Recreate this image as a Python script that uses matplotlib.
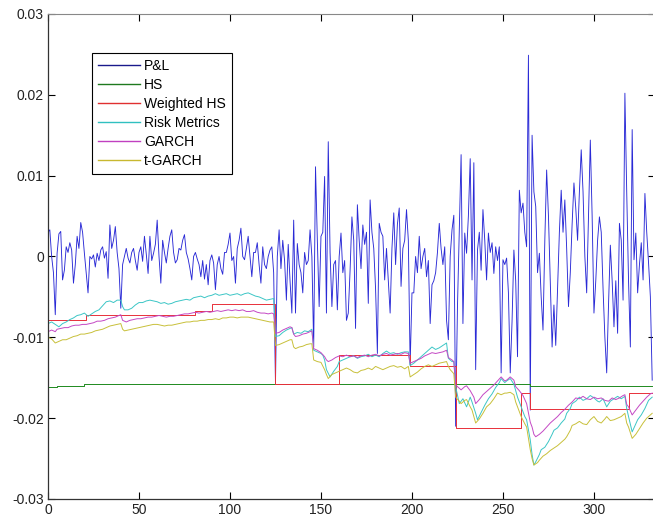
import matplotlib
matplotlib.use("Agg")
import matplotlib.pyplot as plt
import numpy as np

plt.rcParams['font.family'] = ['Liberation Sans', 'DejaVu Sans']

# Daily P&L (units of 1e-3)
pnl = [
    3.0, 3.3, 0.0, -2.0, -7.2, 0.4, 2.8, 3.1, -2.9, -1.7,
    1.2, 0.5, 1.7, 0.8, -3.3, -1.0, 2.5, 1.0, 4.2, 3.0,
    0.4, -2.0, -4.5, 0.0, -0.3, 0.2, -1.3, 0.4, -0.5, 0.8,
    1.2, -0.2, 0.6, -2.7, 3.9, 1.0, 2.0, 3.7, 0.5, -1.5,
    -6.4, -1.0, 0.0, 1.0, -0.2, -0.8, 0.5, 1.0, -0.5, -1.7,
    0.5, 1.2, -0.6, 2.5, 0.3, -2.1, 2.5, -0.5, 0.4, 1.5,
    4.5, 0.0, -3.3, 2.0, 0.5, -0.8, 1.0, 2.5, 3.3, 0.5,
    -0.8, -0.4, 1.0, 0.8, 2.0, 2.7, 0.5, -0.3, -1.5, -2.9,
    0.0, 0.5, -0.3, -1.0, -2.5, -0.5, -2.8, -1.0, -3.5, -0.5,
    0.2, -0.8, -4.1, -1.0, 0.0, -1.5, -2.2, 0.5, 0.5, 1.5,
    2.9, -0.5, 0.0, -3.3, 1.0, 2.0, 3.5, 0.0, -0.4, 1.0,
    2.5, 0.0, -2.5, 0.5, 0.5, 1.7, -1.0, -3.3, 1.2, -1.0,
    -1.5, 0.0, 0.8, 1.2, -2.0, -15.7, 0.0, 3.3, -1.5, 2.0,
    -0.5, -5.4, 1.5, -3.0, -7.0, 4.5, -7.0, 1.6, -1.0, -2.0,
    -4.5, 0.5, -1.0, -0.5, 3.3, 0.0, -11.2, 11.1, 2.0, -6.2,
    2.5, 3.0, 9.9, -7.0, 14.2, 0.5, -6.2, -1.0, -0.5, -6.6,
    0.0, 2.9, -2.0, -0.5, -7.9, -7.0, -1.7, 4.9, 2.0, -8.9,
    6.4, 2.0, -1.5, 3.9, 1.5, 3.0, -5.8, 7.0, 3.0, 1.0,
    -4.0, -12.0, 4.1, 3.0, 2.5, -2.9, 1.0, -3.0, -7.0, 1.0,
    5.4, -1.0, 4.0, 6.0, -3.7, 1.0, 2.0, 5.8, 2.0, -13.4,
    -4.5, -4.5, 0.0, -2.0, 2.5, -1.5, 0.0, 1.0, -2.5, -0.5,
    -8.3, -3.5, -3.0, -2.0, 0.5, 4.1, 1.0, -1.0, 1.2, -7.9,
    -10.3, 0.0, 3.3, 5.1, -21.0, -6.2, 3.0, 12.6, -8.3, 2.9,
    0.4, 5.0, 12.1, -2.9, 11.6, -14.0, 0.8, 3.0, -1.7, 5.8,
    2.0, -2.9, 2.9, 0.5, 1.7, -2.1, 1.2, -0.5, 1.2, -14.4,
    -0.4, -1.0, -0.2, -4.5, -14.4, -8.0, 0.8, -3.0, -12.4, 8.2,
    5.4, 6.6, 3.0, 1.2, 24.9, -19.0, 15.0, 8.0, 6.2, -2.0,
    0.4, -5.0, -9.1, 2.0, 10.7, 5.0, -3.0, -11.2, -6.0, -11.0,
    -4.0, 3.0, 8.2, 3.0, 7.0, 1.0, -6.2, -2.0, 4.0, 9.1,
    6.0, 2.0, 8.0, 13.2, 8.0, 0.0, -4.5, 5.0, 14.4, 5.0,
    -7.0, -3.0, 2.0, 4.9, 3.0, -4.0, -10.0, -14.4, -6.0, 1.4,
    -3.0, -8.7, -3.0, -9.5, 4.1, 2.0, -5.4, 20.2, 8.0, -3.0,
    -11.2, 15.7, -0.4, 2.9, -4.5, -1.0, 1.7, -2.9, 7.8, 3.0,
    -0.8, -5.0, -15.3,
]

# Historical simulation VaR (step levels, units of 1e-3)
hs_day = [0, 5, 20, 265, 332]
hs_var = [-16.2, -16.0, -15.8, -16.0, -16.0]

# Weighted historical simulation VaR (step levels)
whs_day = [0, 21, 81, 90, 125, 160, 199, 224, 260, 265, 319, 332]
whs_var = [-7.9, -7.3, -6.7, -5.9, -15.8, -12.2, -13.6, -21.2, -16.9, -18.9, -16.9, -16.9]

# RiskMetrics VaR
rm_day = [0, 2, 4, 6, 8, 10, 12, 14, 16, 18, 20, 22, 24, 26, 28, 30, 32, 34, 36, 38,
          40, 41, 42, 44, 46, 48, 50, 52, 54, 56, 58, 60, 62, 64, 66, 68, 70, 72, 74, 76,
          78, 80, 82, 84, 86, 88, 90, 92, 94, 96, 98, 100, 102, 104, 106, 108, 110, 112, 114, 116,
          118, 120, 122, 124, 125, 127, 129, 131, 133, 134, 135, 137, 139, 141, 143, 145, 146, 148, 150, 151,
          152, 153, 155, 157, 159, 160, 162, 164, 166, 168, 170, 172, 174, 176, 178, 180, 182, 184, 186, 188,
          190, 192, 194, 196, 198, 199, 201, 203, 205, 207, 209, 211, 213, 215, 217, 219, 220, 222, 223, 224,
          226, 228, 230, 232, 233, 235, 236, 238, 240, 242, 244, 246, 248, 249, 251, 252, 254, 256, 258, 260,
          262, 263, 265, 266, 267, 268, 270, 271, 273, 275, 277, 278, 280, 282, 284, 285, 287, 288, 290, 292,
          294, 296, 298, 300, 302, 303, 305, 307, 309, 311, 313, 315, 317, 318, 319, 321, 322, 324, 326, 328,
          330, 332]
rm_var = [-8.3, -8.1, -8.4, -8.7, -8.3, -8.1, -7.8, -7.6, -7.3, -7.2, -7.0, -7.4, -7.1, -6.8, -6.6, -6.1, -5.6, -5.5, -5.7, -5.4,
          -5.4, -6.2, -6.6, -6.6, -6.4, -6.0, -5.7, -5.7, -5.5, -5.4, -5.5, -5.6, -5.8, -5.7, -5.9, -5.8, -5.6, -5.5, -5.4, -5.3,
          -5.4, -5.1, -5.0, -4.9, -5.1, -4.9, -4.8, -4.6, -4.8, -4.7, -4.6, -4.8, -4.7, -4.6, -4.8, -4.6, -4.5, -4.7, -4.9, -5.0,
          -5.2, -5.4, -5.3, -5.2, -9.9, -9.8, -9.4, -9.1, -8.9, -8.8, -9.6, -9.4, -9.5, -9.2, -9.3, -9.0, -11.6, -11.8, -12.0, -12.2,
          -12.8, -14.0, -14.9, -14.2, -13.6, -13.0, -12.8, -12.6, -12.4, -12.3, -12.6, -12.4, -12.3, -12.1, -12.4, -12.2, -12.4, -12.0, -11.7, -12.0,
          -11.9, -12.1, -11.9, -11.8, -11.8, -13.5, -13.2, -12.8, -12.4, -12.0, -11.6, -11.2, -11.5, -11.3, -11.0, -10.7, -12.6, -13.0, -13.0, -16.1,
          -18.2, -17.6, -18.6, -17.4, -18.0, -19.4, -20.2, -19.3, -18.4, -17.6, -17.0, -16.2, -15.6, -15.1, -15.6, -15.4, -15.1, -15.8, -17.4, -18.6,
          -19.8, -20.2, -22.7, -24.5, -25.8, -25.4, -24.5, -23.9, -23.6, -22.9, -22.0, -21.5, -21.2, -20.6, -20.1, -19.4, -18.8, -18.2, -17.9, -17.4,
          -17.8, -17.6, -17.2, -17.5, -17.9, -18.0, -17.6, -18.6, -17.9, -17.6, -17.3, -17.6, -17.3, -18.8, -19.8, -21.7, -21.2, -20.2, -19.6, -18.8,
          -17.8, -17.4]

# GARCH VaR
garch_day = [0, 2, 4, 5, 7, 9, 11, 13, 15, 17, 19, 21, 23, 25, 27, 29, 31, 33, 35, 37,
             39, 40, 41, 43, 45, 47, 49, 51, 53, 55, 57, 59, 61, 63, 65, 67, 69, 71, 73, 75,
             77, 79, 81, 83, 85, 87, 89, 91, 93, 95, 97, 99, 101, 103, 105, 107, 109, 111, 113, 115,
             117, 119, 121, 123, 124, 125, 127, 129, 131, 133, 134, 135, 136, 138, 140, 142, 144, 145, 146, 148,
             150, 152, 153, 154, 156, 158, 160, 162, 164, 166, 168, 170, 172, 174, 176, 178, 180, 182, 184, 186,
             188, 190, 192, 194, 196, 198, 199, 201, 203, 205, 207, 209, 211, 213, 215, 217, 219, 220, 222, 223,
             224, 226, 227, 229, 230, 232, 234, 235, 237, 239, 241, 243, 245, 247, 249, 251, 252, 254, 256, 257,
             259, 261, 263, 265, 266, 267, 268, 270, 272, 274, 276, 278, 280, 282, 284, 286, 288, 290, 292, 294,
             296, 298, 300, 302, 304, 306, 308, 310, 312, 314, 316, 317, 318, 319, 321, 323, 325, 327, 329, 331,
             332]
garch_var = [-9.3, -9.1, -9.3, -9.0, -8.9, -8.8, -8.8, -8.6, -8.5, -8.5, -8.4, -8.4, -8.3, -8.2, -8.0, -8.0, -7.9, -7.7, -7.6, -7.5,
             -7.3, -7.2, -7.9, -8.1, -7.9, -7.8, -7.7, -7.7, -7.6, -7.5, -7.5, -7.4, -7.3, -7.4, -7.5, -7.4, -7.4, -7.3, -7.2, -7.1,
             -7.1, -7.0, -6.9, -7.0, -6.9, -6.8, -6.9, -6.8, -6.7, -6.8, -6.7, -6.6, -6.7, -6.6, -6.7, -6.6, -6.8, -6.8, -6.7, -6.9,
             -7.0, -7.0, -7.1, -7.0, -7.1, -9.5, -9.4, -9.1, -8.9, -8.7, -8.8, -9.6, -9.9, -9.8, -9.6, -9.5, -9.3, -9.2, -11.4, -11.6,
             -11.9, -12.4, -12.8, -13.0, -12.8, -12.5, -12.3, -12.4, -12.2, -12.4, -12.3, -12.5, -12.3, -12.2, -12.4, -12.2, -12.1, -12.3, -12.1, -12.0,
             -12.2, -12.1, -12.0, -12.1, -11.9, -12.0, -13.2, -13.0, -12.8, -12.6, -12.3, -12.1, -11.9, -12.0, -11.9, -11.8, -11.6, -12.5, -12.8, -13.0,
             -15.9, -16.3, -16.5, -16.1, -16.0, -16.6, -17.4, -18.2, -17.7, -17.1, -16.7, -16.3, -15.9, -15.4, -14.9, -15.4, -15.3, -14.9, -15.3, -16.1,
             -16.6, -17.2, -18.2, -20.5, -21.1, -22.0, -22.3, -22.0, -21.6, -21.1, -20.6, -20.2, -19.8, -19.3, -18.9, -18.4, -18.0, -17.5, -17.6, -17.3,
             -17.6, -17.7, -17.4, -17.6, -17.5, -17.8, -17.9, -17.5, -17.7, -17.5, -17.2, -17.1, -18.3, -18.6, -19.6, -19.0, -18.4, -17.9, -17.4, -17.0,
             -16.9]

# Student-t GARCH VaR
tgarch_day = [0, 2, 4, 6, 8, 10, 12, 14, 16, 18, 20, 22, 24, 26, 28, 30, 32, 34, 36, 38,
              40, 41, 42, 44, 46, 48, 50, 52, 54, 56, 58, 60, 62, 64, 66, 68, 70, 72, 74, 76,
              78, 80, 82, 84, 86, 88, 90, 92, 94, 96, 98, 100, 102, 104, 106, 108, 110, 112, 114, 116,
              118, 120, 122, 124, 125, 127, 129, 131, 133, 134, 135, 136, 138, 140, 142, 144, 145, 146, 148, 150,
              152, 153, 154, 156, 158, 160, 162, 164, 166, 168, 170, 172, 174, 176, 178, 180, 182, 184, 186, 188,
              190, 192, 194, 196, 198, 199, 201, 203, 205, 207, 209, 211, 213, 215, 217, 219, 220, 221, 223, 224,
              226, 227, 229, 230, 232, 233, 235, 237, 239, 241, 243, 245, 247, 249, 251, 252, 254, 256, 257, 259,
              260, 262, 263, 265, 266, 267, 269, 270, 272, 274, 276, 278, 280, 282, 284, 285, 287, 288, 290, 292,
              294, 296, 298, 300, 302, 304, 306, 307, 309, 311, 313, 315, 317, 318, 319, 321, 323, 325, 327, 329,
              331, 332]
tgarch_var = [-10.0, -10.2, -10.7, -10.5, -10.3, -10.3, -10.1, -9.9, -9.8, -9.6, -9.6, -9.5, -9.4, -9.2, -9.1, -9.0, -8.8, -8.6, -8.5, -8.4,
              -8.3, -9.0, -9.2, -9.1, -9.0, -8.9, -8.8, -8.7, -8.6, -8.5, -8.4, -8.4, -8.5, -8.6, -8.5, -8.5, -8.4, -8.3, -8.2, -8.1,
              -8.1, -8.0, -8.0, -7.9, -7.9, -7.8, -7.8, -7.7, -7.8, -7.6, -7.6, -7.5, -7.5, -7.6, -7.5, -7.5, -7.5, -7.6, -7.7, -7.8,
              -7.9, -8.0, -8.1, -8.1, -11.0, -10.9, -10.7, -10.5, -10.3, -10.3, -11.2, -11.4, -11.2, -11.1, -10.9, -10.8, -10.8, -12.8, -13.0, -13.1,
              -14.0, -14.6, -15.1, -14.6, -14.4, -14.2, -14.0, -13.8, -14.0, -14.3, -14.4, -14.1, -14.0, -13.8, -14.0, -13.6, -13.8, -14.0, -13.8, -13.6,
              -13.5, -13.7, -13.6, -13.9, -13.6, -14.9, -14.6, -14.3, -13.9, -13.6, -13.4, -13.6, -13.4, -13.2, -13.1, -13.0, -13.6, -14.0, -14.5, -17.4,
              -17.9, -18.2, -17.8, -17.7, -18.6, -19.0, -20.6, -20.1, -19.4, -18.6, -18.2, -17.6, -16.9, -17.1, -16.9, -16.9, -16.8, -17.1, -18.0, -19.2,
              -19.8, -20.7, -21.1, -23.9, -25.0, -25.8, -25.5, -25.2, -24.7, -24.4, -24.0, -23.7, -23.4, -23.0, -22.6, -22.3, -21.5, -20.9, -20.7, -20.4,
              -20.7, -20.8, -20.2, -19.8, -20.4, -20.6, -20.1, -19.8, -20.3, -20.2, -20.0, -19.8, -19.4, -20.6, -21.1, -22.5, -22.0, -21.3, -20.6, -20.0,
              -19.6, -19.4]

labels = ['P&L', 'HS', 'Weighted HS', 'Risk Metrics', 'GARCH', 't-GARCH']
colors = ['#2a2ad6', '#1f8a1f', '#e8303a', '#3cc6c6', '#c448c4', '#c8c03a']
legend_colors = ['#1a1a8c', '#1f7a1f', '#e03030', '#30c0c0', '#c040c0', '#c8b830']

scale = 1e-3
fig = plt.figure(figsize=(6.53, 5.20), dpi=100)
ax = fig.add_axes([0.0735, 0.0404, 0.93, 0.9327])

lw = 0.7
ax.plot(np.arange(len(pnl)), np.array(pnl) * scale, color=colors[0], lw=0.65, label=labels[0])
ax.plot(hs_day, np.array(hs_var) * scale, color=colors[1], lw=lw, drawstyle='steps-post', label=labels[1])
ax.plot(whs_day, np.array(whs_var) * scale, color=colors[2], lw=lw, drawstyle='steps-post', label=labels[2])
ax.plot(rm_day, np.array(rm_var) * scale, color=colors[3], lw=lw, label=labels[3])
ax.plot(garch_day, np.array(garch_var) * scale, color=colors[4], lw=lw, label=labels[4])
ax.plot(tgarch_day, np.array(tgarch_var) * scale, color=colors[5], lw=lw, label=labels[5])

ax.set_xlim(0, 333.7)
ax.set_ylim(-0.03, 0.03)
ax.set_xticks([0, 50, 100, 150, 200, 250, 300])
ax.set_yticks([-0.03, -0.02, -0.01, 0, 0.01, 0.02, 0.03])
ax.set_yticklabels(['-0.03', '-0.02', '-0.01', '0', '0.01', '0.02', '0.03'])
ax.tick_params(direction='in', length=5, width=0.8, top=True, right=True,
               labelsize=10, labelcolor='#222222', pad=3)
for side in ['left', 'bottom']:
    ax.spines[side].set_color('#333333')
    ax.spines[side].set_linewidth(0.9)
ax.spines['top'].set_color('#888888')
ax.spines['right'].set_color('#333333')

leg = ax.legend(loc='upper left', bbox_to_anchor=(0.0725, 0.9196), borderaxespad=0,
                frameon=True, fancybox=False, shadow=False, framealpha=1,
                edgecolor='black', fontsize=10, handlelength=3.0, handletextpad=0.3,
                labelspacing=0.36, borderpad=0.45)
leg.get_frame().set_linewidth(0.8)
for line, c in zip(leg.get_lines(), legend_colors):
    line.set_linewidth(1.0)
    line.set_color(c)

fig.savefig('out.png', dpi=100)
